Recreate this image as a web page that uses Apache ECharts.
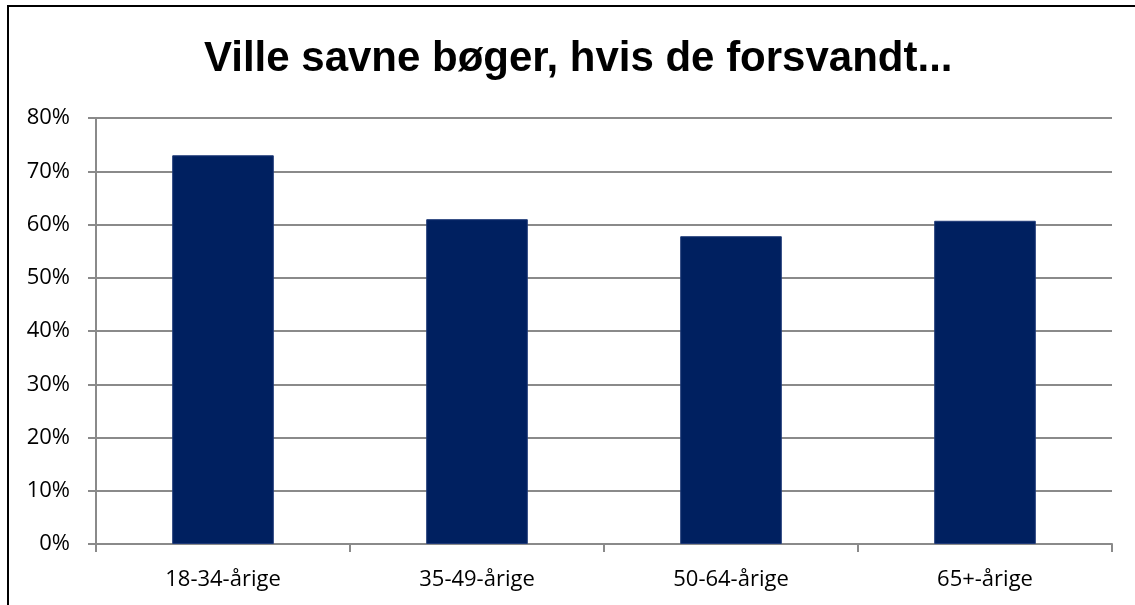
<!DOCTYPE html>
<html lang="da">
<head>
    <meta charset="UTF-8">
    <title>Ville savne bøger</title>
    <style>
        body { margin: 0; background: #fff; }
        #card { width: 1135px; height: 605px; }
    </style>
</head>
<body>
    <div id="card"></div>
    <script src="https://cdn.jsdelivr.net/npm/echarts@6/dist/echarts.min.js"></script>
    <script>
        var titleText = 'Ville savne bøger, hvis de forsvandt...';
        var categories = ['18-34-årige', '35-49-årige', '50-64-årige', '65+-årige'];
        var values = [73.0, 61.0, 57.8, 60.7];
        var axisGray = '#8a8a8a';

        var option = {
            backgroundColor: '#fff',
            animation: false,
            // chart frame: only the top and left edges are visible
            graphic: [{
                type: 'polyline',
                shape: { points: [[8, 605], [8, 6], [1135, 6]] },
                style: { stroke: '#000', lineWidth: 2, fill: null }
            }],
            title: {
                text: titleText,
                left: 204,
                top: 38,
                padding: 0,
                textStyle: {
                    fontFamily: 'Liberation Sans',
                    fontWeight: 'bold',
                    fontSize: 42,
                    color: '#000'
                }
            },
            grid: {
                left: 96,
                right: 23,
                top: 118,
                bottom: 61
            },
            xAxis: {
                type: 'category',
                data: categories,
                boundaryGap: true,
                axisLine: { lineStyle: { color: axisGray, width: 2 } },
                axisTick: { show: true, length: 8, lineStyle: { color: axisGray, width: 2 } },
                axisLabel: {
                    margin: 25,
                    fontFamily: 'Open Sans',
                    fontSize: 22,
                    color: '#000'
                }
            },
            yAxis: {
                type: 'value',
                min: 0,
                max: 80,
                interval: 10,
                axisLine: { show: true, lineStyle: { color: axisGray, width: 2 } },
                axisTick: { show: true, length: 8, lineStyle: { color: axisGray, width: 2 } },
                splitLine: { show: true, lineStyle: { color: axisGray, width: 2 } },
                axisLabel: {
                    formatter: '{value}%',
                    margin: 26,
                    fontFamily: 'Open Sans',
                    fontSize: 22,
                    color: '#000'
                }
            },
            series: [{
                type: 'bar',
                data: values,
                barWidth: '40%',
                itemStyle: {
                    color: '#002060',
                    borderColor: '#1f3a78',
                    borderWidth: 1
                }
            }]
        };

        var myChart = echarts.init(document.getElementById('card'));
        myChart.setOption(option);
    </script>
</body>
</html>
